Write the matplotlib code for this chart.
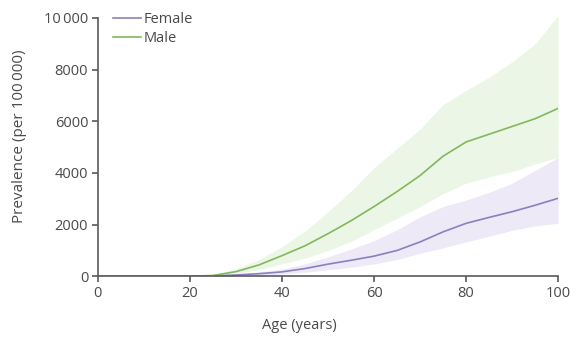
import matplotlib
matplotlib.use("Agg")
import matplotlib.pyplot as plt
from matplotlib.ticker import FuncFormatter

plt.rcParams['font.family'] = ['Open Sans', 'DejaVu Sans']

ages = [0, 5, 10, 15, 20, 25, 30, 35, 40, 45, 50, 55, 60, 65, 70, 75, 80, 85, 90, 95, 100]

male_mean = [0, 0, 0, 0, 0, 30, 180, 440, 800, 1180, 1650, 2150, 2700, 3280, 3900, 4650, 5200, 5500, 5800, 6100, 6500]
male_upper = [0, 0, 0, 0, 0, 50, 300, 650, 1150, 1750, 2500, 3300, 4200, 4950, 5700, 6650, 7200, 7700, 8300, 9000, 10100]
male_lower = [0, 0, 0, 0, 0, 15, 110, 260, 480, 700, 1000, 1350, 1800, 2250, 2700, 3200, 3600, 3850, 4050, 4350, 4600]

female_mean = [0, 0, 0, 0, 0, 10, 50, 100, 170, 300, 470, 620, 780, 1000, 1330, 1720, 2050, 2280, 2500, 2750, 3020]
female_upper = [0, 0, 0, 0, 0, 20, 90, 170, 280, 480, 750, 1050, 1380, 1800, 2300, 2700, 2950, 3250, 3600, 4100, 4600]
female_lower = [0, 0, 0, 0, 0, 0, 20, 50, 90, 160, 250, 350, 480, 650, 890, 1100, 1330, 1550, 1780, 1950, 2050]

x_ticks = [0, 20, 40, 60, 80, 100]
y_ticks = [0, 2000, 4000, 6000, 8000, 10000]

green = '#80b85c'
purple = '#8b80bf'
axis_col = '#5a5a5a'
text_col = '#4a4a4a'

fig = plt.figure(figsize=(5.76, 3.39), dpi=100)
ax = fig.add_axes([0.170, 0.185, 0.799, 0.762])

ax.fill_between(ages, male_lower, male_upper, color='#ecf6e6', lw=0)
ax.fill_between(ages, female_lower, female_upper, color='#ede9f6', lw=0)
ax.plot(ages, female_mean, color=purple, lw=1.2, label='Female')
ax.plot(ages, male_mean, color=green, lw=1.2, label='Male')

ax.set_xlim(0, 100)
ax.set_ylim(0, 10000)
ax.set_xticks(x_ticks)
ax.set_yticks(y_ticks)


def fmt(v, pos):
    v = int(v)
    if v >= 10000:
        return f"{v:,}".replace(',', '\u2009')
    return str(v)


ax.yaxis.set_major_formatter(FuncFormatter(fmt))

for side in ['top', 'right']:
    ax.spines[side].set_visible(False)
for side in ['left', 'bottom']:
    ax.spines[side].set_color(axis_col)
    ax.spines[side].set_linewidth(1.2)

ax.tick_params(axis='both', direction='out', length=4, width=1.2, color=axis_col,
               labelsize=10.5, labelcolor=text_col, pad=3)

ax.set_xlabel('Age (years)', fontsize=10.5, color=text_col, labelpad=9)
ax.xaxis.set_label_coords(0.437, -0.16)
ax.set_ylabel('Prevalence (per 100\u2009000)', fontsize=11, color=text_col)
ax.yaxis.set_label_coords(-0.155, 0.543)

leg = ax.legend(loc='upper left', bbox_to_anchor=(0.02, 1.045), frameon=False,
                fontsize=10.5, handlelength=1.9, handletextpad=0.2, labelspacing=0.25,
                borderaxespad=0)
for t in leg.get_texts():
    t.set_color(text_col)

fig.savefig('out.png', dpi=100)
